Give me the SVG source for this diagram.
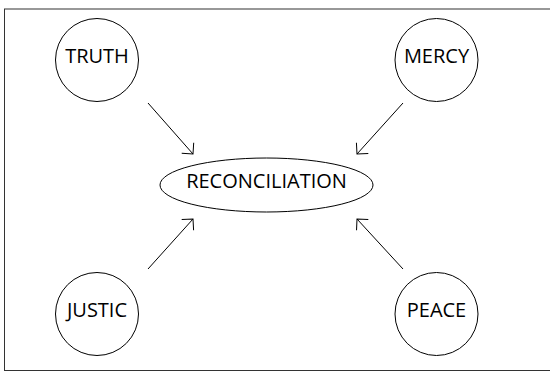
<svg xmlns="http://www.w3.org/2000/svg" width="550" height="372" viewBox="0 0 550 372">
<style>
.node{fill:#fff;stroke:#000;stroke-width:1}
.lbl{font-family:"Open Sans","Noto Sans",sans-serif;font-size:20px;fill:#000;text-anchor:middle}
.edge{stroke:#000;stroke-width:1;fill:none;marker-end:url(#arr)}
</style>
<defs>
<marker id="arr" markerUnits="userSpaceOnUse" viewBox="0 0 10 18" refX="9" refY="9" markerWidth="10" markerHeight="18" orient="auto">
<path d="M1,1 L9,9 L1,17" fill="none" stroke="#000" stroke-width="1"/>
</marker>
</defs>
<rect x="4.5" y="9" width="560" height="361.5" fill="#fff" stroke="#333" stroke-width="1"/>
<g id="connectors">
<line class="edge" x1="148" y1="103" x2="193" y2="154"/>
<line class="edge" x1="403" y1="103" x2="357" y2="154"/>
<line class="edge" x1="148" y1="269" x2="193" y2="219"/>
<line class="edge" x1="403" y1="269" x2="357" y2="219"/>
</g>
<g id="truth"><circle class="node" cx="97" cy="60" r="41.5"/><text class="lbl" x="97" y="63">TRUTH</text></g>
<g id="mercy"><circle class="node" cx="436.5" cy="60" r="41.5"/><text class="lbl" x="436.5" y="63">MERCY</text></g>
<g id="justic"><circle class="node" cx="97" cy="314" r="41.5"/><text class="lbl" x="97" y="317">JUSTIC</text></g>
<g id="peace"><circle class="node" cx="436.5" cy="314" r="41.5"/><text class="lbl" x="436.5" y="317">PEACE</text></g>
<g id="reconciliation"><ellipse class="node" cx="266.5" cy="185" rx="106.5" ry="27"/><text class="lbl" x="266.5" y="188">RECONCILIATION</text></g>
</svg>
